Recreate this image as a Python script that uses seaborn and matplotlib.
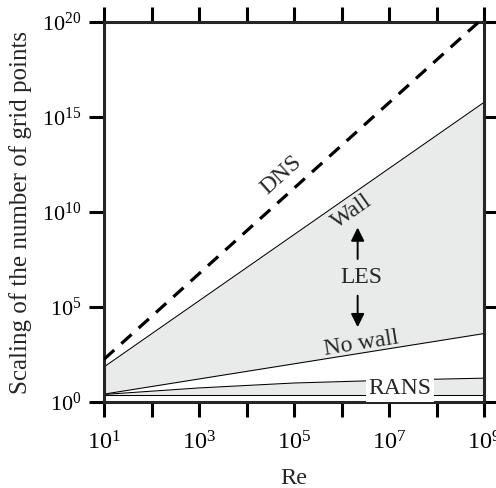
import numpy as np
import seaborn as sns
import matplotlib
matplotlib.use("Agg")
import matplotlib.pyplot as plt
from matplotlib.ticker import FixedLocator, NullLocator

# Reynolds number range and scaling curves
re_line = [1e1, 1e9]
dns = [10**2.25, 10**20.25]
les_wall = [70, 5.9e15]
les_nowall = [2.6, 4.0e3]

rans_re = [1e1, 1e3, 1e5, 1e7, 1e9]
rans_upper = [2.5, 5.5, 10, 14, 18]
rans_lower = [2.4, 2.4, 2.4, 2.4, 2.4]

x_decades = list(range(1, 10))
x_labels = [r"$\mathregular{10^{%d}}$" % d if d % 2 == 1 else "" for d in x_decades]
y_decades = [0, 5, 10, 15, 20]
y_labels = [r"$\mathregular{10^{%d}}$" % d for d in y_decades]

sns.set_style("ticks")
plt.rcParams["font.family"] = ["Liberation Serif", "DejaVu Serif"]
plt.rcParams["mathtext.fontset"] = "custom"
plt.rcParams["mathtext.rm"] = "Liberation Serif"
plt.rcParams["mathtext.it"] = "Liberation Serif:italic"

fig = plt.figure(figsize=(4.96, 4.88), dpi=100)
ax = fig.add_axes([104 / 496, 1 - 402 / 488, 380 / 496, 380 / 488])
ax.set_xscale("log")
ax.set_yscale("log")

gray = "#e9eaea"
ax.fill_between(re_line, les_nowall, les_wall, color=gray, lw=0, zorder=1)
ax.fill_between(rans_re, rans_lower, rans_upper, color=gray, lw=0, zorder=1)

thin = dict(color="black", lw=0.75, zorder=2)
sns.lineplot(x=re_line, y=les_wall, ax=ax, **thin)
sns.lineplot(x=re_line, y=les_nowall, ax=ax, **thin)
sns.lineplot(x=rans_re, y=rans_upper, ax=ax, **thin)
sns.lineplot(x=rans_re, y=rans_lower, ax=ax, **thin)
dl = sns.lineplot(x=re_line, y=dns, ax=ax, color="black", lw=2.3, zorder=3)
dl.lines[-1].set_dashes((4.3, 3.0))

ax.set_xlim(1e1, 1e9)
ax.set_ylim(1e0, 1e20)

ax.xaxis.set_major_locator(FixedLocator([10.0**d for d in x_decades]))
ax.xaxis.set_minor_locator(NullLocator())
ax.set_xticklabels(x_labels)
ax.yaxis.set_major_locator(FixedLocator([10.0**d for d in y_decades]))
ax.yaxis.set_minor_locator(NullLocator())
ax.set_yticklabels(y_labels)

for s in ax.spines.values():
    s.set_linewidth(2.2)
    s.set_visible(True)
ax.tick_params(which="major", direction="out", length=10.5, width=2.2,
               top=True, right=True, colors="black")
ax.tick_params(axis="x", pad=10.5, labelsize=17.5)
ax.tick_params(axis="y", pad=6, labelsize=16)

ax.set_xlabel("Re", fontsize=17.5, labelpad=10)
ax.set_ylabel("Scaling of the number of grid points", fontsize=18)
ax.yaxis.set_label_coords(-0.19, 0.5)

fs = 17
ax.text(10**4.74, 10**11.96, "DNS", rotation=42, rotation_mode="anchor",
        ha="center", va="center", fontsize=fs)
ax.text(10**6.21, 10**10.03, "Wall", rotation=35, rotation_mode="anchor",
        ha="center", va="center", fontsize=fs)
ax.text(10**6.41, 10**6.53, "LES", ha="center", va="center", fontsize=fs)
ax.text(10**6.41, 10**3.06, "No wall", rotation=9, rotation_mode="anchor",
        ha="center", va="center", fontsize=fs)
ax.text(10**7.23, 10**0.72, "RANS", ha="center", va="center", fontsize=fs,
        bbox=dict(facecolor="white", edgecolor="none", pad=2), zorder=4)

arrow = dict(arrowstyle="-|>", color="black", lw=1.4, mutation_scale=20)
ax.annotate("", xy=(10**6.34, 10**9.33), xytext=(10**6.34, 10**7.38), arrowprops=arrow)
ax.annotate("", xy=(10**6.34, 10**3.79), xytext=(10**6.34, 10**5.74), arrowprops=arrow)

fig.savefig("out.png", dpi=100)
